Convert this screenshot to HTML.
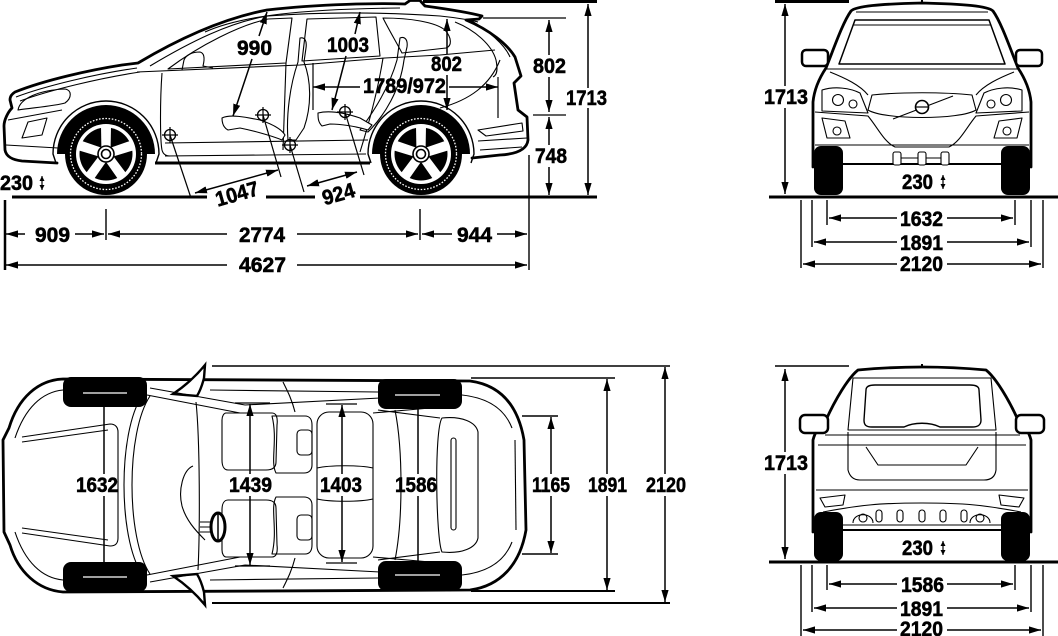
<!DOCTYPE html>
<html><head><meta charset="utf-8"><style>
html,body{margin:0;padding:0;background:#fff;}
svg{display:block;}
text{font-family:"Liberation Sans",Arial,sans-serif;font-weight:bold;font-size:21px;fill:#000;stroke:#000;stroke-width:0.55;}
.o{fill:none;stroke:#000;stroke-width:2.8;stroke-linejoin:round;stroke-linecap:round;}
.t{fill:none;stroke:#000;stroke-width:1.1;stroke-linejoin:round;}
.d{fill:none;stroke:#000;stroke-width:1.5;marker-end:url(#a);}
.dd{fill:none;stroke:#000;stroke-width:1.5;marker-end:url(#a);marker-start:url(#a);}
.e{stroke:#000;stroke-width:1.4;}
.s{fill:none;stroke:#000;stroke-width:1.2;marker-end:url(#sm);marker-start:url(#sm);}
</style></head><body>
<svg width="1058" height="636" viewBox="0 0 1058 636" xmlns="http://www.w3.org/2000/svg">
<defs>
<marker id="a" markerUnits="userSpaceOnUse" markerWidth="12" markerHeight="8" refX="12" refY="4" orient="auto-start-reverse" viewBox="0 0 12 8"><path d="M0,0.4 L12,4 L0,7.6 Z" fill="#000"/></marker>
<marker id="sm" markerUnits="userSpaceOnUse" markerWidth="5" markerHeight="5" refX="5" refY="2.5" orient="auto-start-reverse" viewBox="0 0 5 5"><path d="M0,0 L5,2.5 L0,5 Z" fill="#000"/></marker>
<g id="wheel">
<path d="M-49,0 A49,49 0 0 1 49,0 Z" fill="#000"/>
<circle r="41" fill="#000"/>
<circle r="35.5" fill="none" stroke="#fff" stroke-width="1.3" stroke-dasharray="1.6 1.6"/>
<circle r="30" fill="#fff"/>
<circle r="26.5" fill="#000"/>
<g fill="#fff">
<polygon points="-4.5,0 4.5,0 5,-28 -5,-28"/>
<polygon points="-4.5,0 4.5,0 5,-28 -5,-28" transform="rotate(72)"/>
<polygon points="-4.5,0 4.5,0 5,-28 -5,-28" transform="rotate(144)"/>
<polygon points="-4.5,0 4.5,0 5,-28 -5,-28" transform="rotate(216)"/>
<polygon points="-4.5,0 4.5,0 5,-28 -5,-28" transform="rotate(288)"/>
</g>
<circle r="8" fill="#fff" stroke="#000" stroke-width="1.6"/>
<circle r="4.5" fill="#fff" stroke="#000" stroke-width="1.6"/>
<path d="M-50,9 L-53,0 A53,53 0 0 1 53,0 L50,9" fill="none" stroke="#000" stroke-width="1.4"/>
</g>
<g id="ch"><circle r="5.5" fill="none" stroke="#000" stroke-width="1.3"/><path d="M-8,0 H8 M0,-8 V8" stroke="#000" stroke-width="1.2"/></g>
</defs>

<!-- ================= SIDE VIEW ================= -->
<path class="o" d="M57,163 L22,161 C12,160 6,156 5,150 L4,126 C4,120 8,112 12,108 L10,100 C10,96 12,94 15,92 C45,80 90,70 122,65 L138,63 C180,38 225,18 267,10 C320,4 380,3 405,4 L410,0.5 L420,0.5 L425,6 C447,9 467,12 482,16 L479,19 L466,20 C490,30 508,45 515,57 L521,76 L514,83 L518,110 L527,117 L528,140 C527,149 518,154 500,155 L472,158"/>
<path d="M155,163 L370,163" stroke="#000" stroke-width="3"/>
<g class="t">
<path d="M16,97 C45,86 95,74 137,68"/>
<path d="M20,101 C50,90 100,78 140,72"/>
<path d="M18,110 C20,98 40,90 65,89 C72,90 72,98 65,103 C55,106 30,108 18,110 Z"/>
<path d="M8,120 L62,110"/>
<path d="M22,138 L28,122 L47,118 L42,135 Z"/>
<path d="M6,145 L58,148"/>
<path d="M150,66 C190,42 230,22 268,16 C320,12 380,12 440,16 C460,18 475,21 478,22"/>
<path d="M205,32 C240,16 300,9 400,8"/>
<path d="M168,69 C200,45 240,25 268,19 L292,18 L286,63 Z"/>
<path d="M307,19 L376,17 L380,56 L302,61 Z"/>
<path d="M383,18 C410,18 435,22 445,30 C452,38 452,46 446,48 L402,53 C395,40 388,28 383,18 Z"/>
<path d="M455,22 C475,30 492,45 496,60 C498,70 497,75 493,77"/>
<path d="M470,20 C488,30 505,45 510,57"/>
<path d="M500,60 C490,85 470,100 440,108"/>
<path d="M137,72 L300,65 L385,58 L440,55 L495,50"/>
<path d="M162,73 C160,100 160,140 162,150 C163,154 166,156 170,156"/>
<path d="M286,63 L283,150"/>
<path d="M383,58 C378,90 370,120 360,152"/>
<path d="M165,143 L368,140"/>
<path d="M165,156 L366,154"/>
<path d="M182,70 L184,60 C186,55 192,52 200,52 C204,53 205,58 203,66 L213,68"/>
<path d="M300,38 C305,37 307,41 306,48 L304,62 C311,80 312,105 304,128 L296,140 L288,140 C286,115 290,85 298,62 Z"/>
<path d="M400,38 C405,36 408,40 407,47 L404,60 C400,90 385,115 368,132 L360,130 C375,110 390,85 397,60 Z"/>
<path d="M222,118 C230,114 245,117 260,120 C275,125 282,130 285,135 L282,140 C270,135 250,130 240,128 L228,130 C224,128 222,124 222,118 Z" fill="#fff"/>
<path d="M318,113 C330,110 345,113 360,118 L372,125 L368,130 C355,126 340,124 330,124 L322,126 C318,122 318,118 318,113 Z" fill="#fff"/>
<path d="M478,130 L522,123 L523,131 L486,136 Z"/>
<path d="M478,141 L527,138"/>
<path d="M480,150 L522,147"/>
</g>
<use href="#wheel" x="106" y="154"/>
<use href="#wheel" x="421" y="154"/>
<use href="#ch" x="170" y="135"/>
<use href="#ch" x="263" y="115"/>
<use href="#ch" x="290" y="145"/>
<use href="#ch" x="345" y="112"/>
<g stroke="#000" stroke-width="1.2">
<path d="M170,135 L191,198"/>
<path d="M263,115 L281,177"/>
<path d="M290,145 L304,192"/>
<path d="M345,112 L364,175"/>
<path d="M313,63 L313,110"/>
<path d="M498,77 L498,118"/>
</g>
<path d="M12,197 H207 M266,197 H315 M360,197 H597" stroke="#000" stroke-width="3"/>
<path d="M423,1.5 H597" stroke="#000" stroke-width="3"/>
<path d="M483,18 H566 M533,115 H566" stroke="#000" stroke-width="1.2"/>
<path d="M5,200 V270" stroke="#000" stroke-width="2.5"/>
<path d="M106,209 V240 M420,209 V240 M529,155 V270" class="e"/>
<path class="d" d="M25,234 H6"/><path class="d" d="M75,234 H104"/>
<path class="d" d="M227,234 H108"/><path class="d" d="M297,234 H418"/>
<path class="d" d="M452,234 H422"/><path class="d" d="M497,234 H527"/>
<path class="d" d="M227,265 H6"/><path class="d" d="M297,265 H527"/>
<path class="d" d="M252,59 L233,116"/><path class="d" d="M259,36 L267,12"/>
<path class="d" d="M346,56 L332,110"/><path class="d" d="M355,34 L360,12"/>
<path class="d" d="M447,54 V19"/><path class="d" d="M447,75 V110"/>
<path class="d" d="M360,87 H313"/><path class="d" d="M449,87 H498"/>
<path class="d" d="M549,55 V20"/><path class="d" d="M549,77 V112"/>
<path class="d" d="M549,145 V117"/><path class="d" d="M549,167 V195"/>
<path class="d" d="M588,88 V4"/><path class="d" d="M588,108 V195"/>
<path class="dd" d="M195,193 L278,170"/>
<path class="dd" d="M307,186 L357,172"/>
<path class="s" d="M42,176 V190"/>
<text x="0" y="190" textLength="33" lengthAdjust="spacingAndGlyphs">230</text>
<text x="35" y="242" textLength="35" lengthAdjust="spacingAndGlyphs">909</text>
<text x="239" y="242" textLength="46" lengthAdjust="spacingAndGlyphs">2774</text>
<text x="457" y="242" textLength="35" lengthAdjust="spacingAndGlyphs">944</text>
<text x="239" y="272" textLength="47" lengthAdjust="spacingAndGlyphs">4627</text>
<text x="237" y="55" textLength="35" lengthAdjust="spacingAndGlyphs">990</text>
<text x="327" y="52" textLength="42" lengthAdjust="spacingAndGlyphs">1003</text>
<text x="431" y="71" textLength="31" lengthAdjust="spacingAndGlyphs">802</text>
<text x="363" y="93" textLength="83" lengthAdjust="spacingAndGlyphs">1789/972</text>
<text x="533" y="73" textLength="33" lengthAdjust="spacingAndGlyphs">802</text>
<text x="535" y="163" textLength="32" lengthAdjust="spacingAndGlyphs">748</text>
<text x="566" y="105" textLength="41" lengthAdjust="spacingAndGlyphs">1713</text>
<text transform="translate(237,194) rotate(-16)" x="-22" y="7" textLength="44" lengthAdjust="spacingAndGlyphs">1047</text>
<text transform="translate(339,194) rotate(-16)" x="-17" y="7" textLength="33" lengthAdjust="spacingAndGlyphs">924</text>

<!-- ================= FRONT VIEW ================= -->
<rect x="814" y="146" width="29" height="49" rx="7" fill="#000"/>
<rect x="1001" y="146" width="29" height="49" rx="7" fill="#000"/>
<path class="o" d="M813,167 L813,102 C814,92 818,80 826,68 C834,48 843,22 851,11 C856,6 880,4 922,3 C964,4 988,6 993,11 C1001,22 1010,48 1018,68 C1026,80 1030,92 1031,102 L1031,167"/>
<path d="M843,164 H1001" stroke="#000" stroke-width="2"/>
<rect x="802" y="50" width="26" height="16" rx="4" fill="#fff" stroke="#000" stroke-width="2.5"/>
<rect x="1016" y="50" width="26" height="16" rx="4" fill="#fff" stroke="#000" stroke-width="2.5"/>
<g class="t">
<path d="M855,20 L989,20 L1005,64 L839,64 Z" stroke-width="1.5"/>
<path d="M853,25 L991,25"/>
<path d="M856,12 L988,12"/>
<path d="M826,69 L1018,69"/>
<path d="M830,72 C845,78 860,85 868,95"/>
<path d="M1014,72 C999,78 984,85 976,95"/>
<path d="M872,95 C900,92 944,92 972,95 L976,110 C960,120 884,120 868,110 Z"/>
<path d="M893,119 L953,96"/>
<path d="M822,90 C835,86 850,88 860,93 L868,113 L822,111 Z"/>
<path d="M1022,90 C1009,86 994,88 984,93 L976,113 L1022,111 Z"/>
<circle cx="838" cy="100" r="5.5"/><circle cx="853" cy="104" r="4"/>
<circle cx="1006" cy="100" r="5.5"/><circle cx="991" cy="104" r="4"/>
<path d="M815,112 L868,116 C878,128 884,142 895,147 L949,147 C960,142 966,128 976,116 L1029,112"/>
<path d="M822,118 L845,121 L850,138 L827,138 Z"/><circle cx="837" cy="131" r="4"/>
<path d="M1022,118 L999,121 L994,138 L1017,138 Z"/><circle cx="1007" cy="131" r="4"/>
<path d="M815,145 L1029,145"/>
<path d="M901,158 H918 M926,158 H941"/>
<rect x="893" y="152" width="8" height="13" rx="2" fill="#fff"/>
<rect x="918" y="152" width="8" height="13" rx="2" fill="#fff"/>
<rect x="941" y="152" width="8" height="13" rx="2" fill="#fff"/>
</g>
<circle cx="922" cy="107" r="6.5" fill="#fff" stroke="#000" stroke-width="1.6"/>
<path d="M916,107 H928" stroke="#000" stroke-width="1.2"/>
<path d="M922,3 V0" stroke="#000" stroke-width="2"/>
<path d="M775,1.5 H849" stroke="#000" stroke-width="3"/>
<path d="M769,197 H1058" stroke="#000" stroke-width="3"/>
<path class="e" d="M801,200 V268 M812,200 V247 M827,200 V225 M1015,200 V225 M1031,200 V247 M1043,200 V268"/>
<path class="d" d="M785,86 V4"/><path class="d" d="M785,108 V194"/>
<path class="d" d="M897,218 H829"/><path class="d" d="M947,218 H1013"/>
<path class="d" d="M897,242 H814"/><path class="d" d="M947,242 H1029"/>
<path class="d" d="M897,264 H803"/><path class="d" d="M947,264 H1041"/>
<path class="s" d="M943,175 V189"/>
<text x="764" y="104" textLength="44" lengthAdjust="spacingAndGlyphs">1713</text>
<text x="902" y="189" textLength="31" lengthAdjust="spacingAndGlyphs">230</text>
<text x="900" y="226" textLength="43" lengthAdjust="spacingAndGlyphs">1632</text>
<text x="900" y="250" textLength="43" lengthAdjust="spacingAndGlyphs">1891</text>
<text x="900" y="271" textLength="43" lengthAdjust="spacingAndGlyphs">2120</text>

<!-- ================= REAR VIEW ================= -->
<rect x="814" y="512" width="29" height="49" rx="7" fill="#000"/>
<rect x="1001" y="512" width="29" height="49" rx="7" fill="#000"/>
<path class="o" d="M813,532 L813,440 C815,432 820,425 826,420 C835,400 848,378 858,370 C880,368 900,367 922,367 C944,367 964,368 986,370 C996,378 1009,400 1018,420 C1024,425 1029,432 1031,440 L1031,532"/>
<path d="M843,530 H1001" stroke="#000" stroke-width="2"/>
<rect x="800" y="415" width="28" height="18" rx="5" fill="#fff" stroke="#000" stroke-width="2.5"/>
<rect x="1016" y="415" width="28" height="18" rx="5" fill="#fff" stroke="#000" stroke-width="2.5"/>
<g class="t">
<path d="M853,378 L991,378 L996,430 L848,430 Z"/>
<path d="M866,390 C866,386 870,385 875,385 L970,385 C975,385 979,386 979,390 L981,420 C981,425 978,427 972,427 L940,427 C930,422 914,422 904,427 L872,427 C866,427 864,425 864,420 Z" stroke-width="1.4"/>
<path d="M825,435 L1020,435"/>
<path d="M818,445 L1026,445"/>
<path d="M848,432 L848,470 C850,478 855,480 860,480 L984,480 C990,480 995,478 996,470 L996,432"/>
<path d="M866,447 L878,465 L966,465 L978,447"/>
<path d="M820,498 L845,495 L843,505 L825,507 Z"/>
<path d="M1024,498 L999,495 L1001,505 L1019,507 Z"/>
<path d="M816,490 L1028,490"/>
<path d="M823,512 C860,505 880,503 922,503 C964,503 984,505 1021,512"/>
<path d="M825,525 L1019,525"/>
<circle cx="863" cy="518" r="4"/><circle cx="980" cy="518" r="4"/>
<path d="M853,523 C853,512 873,512 873,523"/><path d="M970,523 C970,512 990,512 990,523"/>
<rect x="876" y="510" width="6" height="12" rx="3"/>
<rect x="897" y="510" width="6" height="12" rx="3"/>
<rect x="919" y="510" width="6" height="12" rx="3"/>
<rect x="940" y="510" width="6" height="12" rx="3"/>
<rect x="961" y="510" width="6" height="12" rx="3"/>
</g>
<path d="M922,367 V364" stroke="#000" stroke-width="2"/>
<path d="M775,366 H849" stroke="#000" stroke-width="1.5"/>
<path d="M769,562 H1058" stroke="#000" stroke-width="3"/>
<path class="e" d="M801,565 V636 M812,565 V612 M827,565 V590 M1015,565 V590 M1031,565 V612 M1043,565 V636"/>
<path class="d" d="M785,452 V369"/><path class="d" d="M785,474 V559"/>
<path class="d" d="M897,584 H829"/><path class="d" d="M947,584 H1013"/>
<path class="d" d="M897,608 H814"/><path class="d" d="M947,608 H1029"/>
<path class="d" d="M897,630 H803"/><path class="d" d="M947,630 H1041"/>
<path class="s" d="M943,541 V555"/>
<text x="764" y="470" textLength="44" lengthAdjust="spacingAndGlyphs">1713</text>
<text x="902" y="555" textLength="31" lengthAdjust="spacingAndGlyphs">230</text>
<text x="901" y="592" textLength="43" lengthAdjust="spacingAndGlyphs">1586</text>
<text x="900" y="616" textLength="43" lengthAdjust="spacingAndGlyphs">1891</text>
<text x="900" y="636" textLength="43" lengthAdjust="spacingAndGlyphs">2120</text>

<!-- ================= TOP VIEW ================= -->
<path d="M63,379 L470,381 C500,385 518,405 524,440 L526,530 C520,565 500,586 470,590 L63,592 C38,590 18,572 10,545 L4,532 L3,440 L9,428 C18,398 38,380 63,379 Z" fill="#fff" stroke="#000" stroke-width="2.8"/>
<path d="M173,394 C185,386 196,376 205,365 L204,378 C202,386 200,391 197,396 Z" fill="#fff" stroke="#000" stroke-width="2.4"/>
<path d="M173,576 C185,584 196,594 205,605 L204,592 C202,584 200,579 197,574 Z" fill="#fff" stroke="#000" stroke-width="2.4"/>
<rect x="63" y="377" width="84" height="30" rx="8" fill="#000"/>
<rect x="63" y="562" width="84" height="30" rx="8" fill="#000"/>
<rect x="378" y="379" width="84" height="30" rx="8" fill="#000"/>
<rect x="378" y="561" width="84" height="30" rx="8" fill="#000"/>
<g class="t">
<path d="M15,438 C25,408 42,392 63,390"/>
<path d="M15,532 C25,562 42,578 63,580"/>
<path d="M22,437 L110,424 C116,424 118,428 118,432 L118,538 C118,543 116,546 110,546 L22,533"/>
<path d="M22,442 L108,430"/>
<path d="M22,528 L108,540"/>
<path d="M147,395 L240,413"/><path d="M150,388 L245,405"/>
<path d="M147,575 L240,557"/><path d="M150,582 L245,565"/>
<path d="M142,396 C118,432 118,538 142,574"/>
<path d="M150,396 C126,432 126,538 150,574"/>
<path d="M196,402 C200,440 200,530 198,570"/>
<path d="M193,466 C183,470 178,490 182,506 C186,520 195,530 205,540"/>
<path d="M200,527 L211,527 M200,522 L211,522 M200,532 L211,532"/>
<path d="M226,413 L272,413 C276,413 278,417 277,425 L276,462 C276,468 272,470 266,470 L228,470 C224,470 222,466 222,460 L222,420 C222,416 224,413 226,413 Z"/>
<path d="M272,416 L305,416 C310,416 312,420 312,425 L312,465 C312,470 309,473 304,473 L276,473 C270,462 278,440 272,416 Z"/>
<rect x="297" y="430" width="15" height="25" rx="4"/>
<path d="M226,557 L272,557 C276,557 278,553 277,545 L276,508 C276,502 272,500 266,500 L228,500 C224,500 222,504 222,510 L222,550 C222,554 224,557 226,557 Z"/>
<path d="M272,554 L305,554 C310,554 312,550 312,545 L312,505 C312,500 309,497 304,497 L276,497 C270,508 278,530 272,554 Z"/>
<rect x="297" y="515" width="15" height="25" rx="4"/>
<rect x="317" y="412" width="56" height="146" rx="12"/>
<path d="M317,468 C330,465 360,465 373,468 M317,499 C330,502 360,502 373,499"/>
<path d="M210,390 L378,392"/><path d="M210,580 L378,578"/>
<path d="M245,405 L380,398"/><path d="M245,565 L380,572"/>
<path d="M283,382 C288,392 292,400 295,412"/>
<path d="M283,588 C288,578 292,570 295,558"/>
<path d="M378,410 L440,418"/><path d="M378,560 L440,552"/>
<path d="M395,410 C403,450 403,520 395,560"/>
<path d="M373,413 L430,408 M373,557 L430,562"/>
<path d="M442,418 C462,416 476,422 478,432 L478,538 C476,548 462,554 442,552 C436,540 434,430 442,418 Z"/>
<rect x="451" y="438" width="5" height="92" rx="2.5"/>
<path d="M462,395 C490,398 505,410 512,428"/>
<path d="M462,575 C490,572 505,560 512,542"/>
<path d="M515,440 L516,530"/>
</g>
<ellipse cx="218" cy="527" rx="7" ry="14" fill="#fff" stroke="#000" stroke-width="3"/>
<path d="M218,514 V540" stroke="#000" stroke-width="1.5"/>
<path d="M212,366 H670" stroke="#000" stroke-width="1.5"/>
<path d="M212,603 H670" stroke="#000" stroke-width="2"/>
<path d="M471,378 H615" stroke="#000" stroke-width="1.5"/>
<path d="M471,591 H615" stroke="#000" stroke-width="2"/>
<path d="M522,416 H558 M522,554 H558" stroke="#000" stroke-width="1.5"/>
<path d="M83,393 H127 M83,577 H127 M395,395 H440 M395,575 H440" stroke="#fff" stroke-width="1.3"/>
<path d="M235,403 H270 M235,566 H270 M326,404 H357 M326,563 H357" stroke="#000" stroke-width="1.3"/>
<path class="d" d="M104,474 V394"/><path class="d" d="M104,496 V576"/>
<path class="d" d="M250,474 V404"/><path class="d" d="M250,496 V565"/>
<path class="d" d="M342,474 V405"/><path class="d" d="M342,496 V562"/>
<path class="d" d="M418,474 V396"/><path class="d" d="M418,496 V574"/>
<path class="d" d="M551,474 V417"/><path class="d" d="M551,496 V553"/>
<path class="d" d="M607,474 V379"/><path class="d" d="M607,496 V590"/>
<path class="d" d="M665,474 V367"/><path class="d" d="M665,496 V602"/>
<text x="76" y="492" textLength="42" lengthAdjust="spacingAndGlyphs">1632</text>
<text x="229" y="492" textLength="43" lengthAdjust="spacingAndGlyphs">1439</text>
<text x="320" y="492" textLength="42" lengthAdjust="spacingAndGlyphs">1403</text>
<text x="395" y="492" textLength="42" lengthAdjust="spacingAndGlyphs">1586</text>
<text x="532" y="492" textLength="38" lengthAdjust="spacingAndGlyphs">1165</text>
<text x="588" y="492" textLength="39" lengthAdjust="spacingAndGlyphs">1891</text>
<text x="646" y="492" textLength="40" lengthAdjust="spacingAndGlyphs">2120</text>
</svg>
</body></html>
